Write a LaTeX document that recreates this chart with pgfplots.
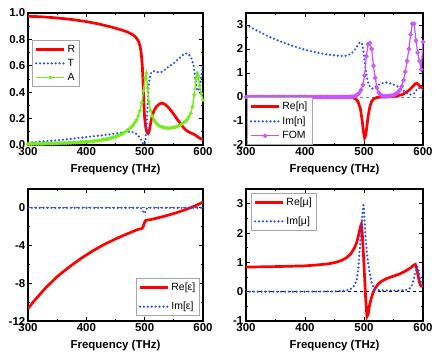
\documentclass[border=0pt]{standalone}
\usepackage{fontspec}
\setmainfont{Liberation Sans}
\usepackage{pgfplots}
\pgfplotsset{compat=1.18}

\definecolor{cR}{RGB}{255,0,0}
\definecolor{cB}{RGB}{35,75,255}
\definecolor{cG}{RGB}{120,235,30}
\definecolor{cP}{RGB}{200,80,255}

\pgfplotsset{
  panel/.style={
    scale only axis, width=175bp, height=132bp,
    xmin=300, xmax=600, xtick={300,400,500,600}, minor x tick num=1,
    tick align=inside, major tick length=4bp, minor tick length=2bp,
    axis line style={line width=1.1bp}, every tick/.style={black, line width=0.8bp},
    ticklabel style={font=\bfseries\fontsize{11.5}{13}\selectfont},
    yticklabel style={inner sep=2.5bp},
    xticklabel style={inner sep=2.5bp},
    /pgf/number format/assume math mode=true,
    xlabel={\bfseries Frequency (THz)},
    xlabel style={font=\fontsize{11.5}{13}\selectfont, at={(axis description cs:0.5,-0.205)}, anchor=base},
    legend style={font=\fontsize{10.5}{12}\selectfont, draw=gray!70, line width=0.6bp,
      inner sep=2.5bp, row sep=1.5bp, cells={anchor=west}},
    legend cell align=left,
    legend image code/.code={\draw[mark repeat=2,mark phase=2,##1] plot coordinates {(0bp,0bp)(14bp,0bp)(28bp,0bp)};},
  },
  Rl/.style={cR, line width=2.7bp},
  Bl/.style={cB, line width=2.4bp, line cap=round, dash pattern=on 0bp off 3.9bp},
}

\begin{document}
\begin{tikzpicture}
\useasboundingbox (0,0) rectangle (436bp,353bp);

% R, T, A
\begin{axis}[panel, at={(28bp,208bp)}, anchor=south west,
  ymin=0, ymax=1, ytick={0,0.2,...,1.0}, minor y tick num=1,
  yticklabel style={/pgf/number format/.cd, fixed, fixed zerofill, precision=1},
  legend style={at={(0.023,0.795)}, anchor=north west}]
\addplot[Rl] coordinates {
(300,0.975)(320,0.972)(340,0.966)(360,0.958)(380,0.948)(400,0.935)(420,0.918)(440,0.897)
(460,0.872)(470,0.857)(480,0.835)(485,0.815)(488,0.795)(490,0.78)(492,0.75)(494,0.7)
(496,0.6)(497,0.5)(498,0.38)(499,0.28)(500,0.2)(502,0.13)(504,0.095)(506,0.088)(508,0.11)
(510,0.16)(513,0.22)(516,0.26)(520,0.29)(525,0.31)(530,0.318)(535,0.308)(540,0.288)
(545,0.262)(550,0.232)(555,0.2)(560,0.17)(565,0.14)(570,0.115)(575,0.1)(580,0.09)
(585,0.08)(590,0.065)(595,0.05)(600,0.04)};
\addlegendentry{R}
\addplot[Bl] coordinates {
(300,0.018)(320,0.025)(340,0.032)(360,0.04)(380,0.05)(400,0.06)(420,0.07)(440,0.08)
(460,0.095)(470,0.1)(478,0.1)(484,0.09)(488,0.075)(492,0.055)(495,0.03)(497,0.012)
(499,0.003)(501,0.02)(503,0.12)(505,0.3)(507,0.45)(509,0.52)(512,0.555)(515,0.56)
(520,0.555)(525,0.55)(530,0.555)(535,0.57)(540,0.59)(550,0.62)(560,0.66)(565,0.68)
(570,0.695)(575,0.69)(580,0.66)(584,0.6)(587,0.5)(589,0.43)(591,0.41)(593,0.42)
(595,0.45)(597,0.52)(599,0.58)(600,0.6)};
\addlegendentry{T}
\addplot[cG, line width=1.4bp, mark=*, mark size=1.1bp] coordinates {
(300,0.008)(303,0.008)(306,0.008)(309,0.009)(312,0.009)(315,0.009)(318,0.01)(321,0.01)
(324,0.01)(327,0.01)(330,0.011)(333,0.011)(336,0.011)(339,0.012)(342,0.012)(345,0.012)
(348,0.013)(351,0.013)(354,0.013)(357,0.014)(360,0.014)(363,0.015)(366,0.015)(369,0.016)
(372,0.016)(375,0.017)(378,0.018)(381,0.018)(384,0.019)(387,0.02)(390,0.021)(393,0.022)
(396,0.023)(399,0.024)(402,0.025)(405,0.026)(408,0.027)(411,0.028)(414,0.03)(417,0.031)
(420,0.033)(423,0.035)(426,0.037)(429,0.04)(432,0.042)(435,0.045)(438,0.048)(441,0.051)
(444,0.055)(447,0.059)(450,0.063)(453,0.068)(456,0.073)(459,0.079)(462,0.086)(465,0.094)
(468,0.103)(471,0.113)(474,0.124)(477,0.136)(480,0.15)(483,0.168)(486,0.19)(489,0.22)
(492,0.26)(495,0.32)(498,0.41)(501,0.51)(503,0.545)(505,0.43)(507,0.33)(510,0.26)
(513,0.22)(516,0.19)(519,0.17)(522,0.155)(525,0.145)(528,0.14)(531,0.135)(534,0.13)
(537,0.13)(540,0.128)(543,0.128)(546,0.13)(549,0.132)(552,0.135)(555,0.14)(558,0.145)
(561,0.15)(564,0.16)(567,0.17)(570,0.18)(573,0.195)(576,0.215)(579,0.24)(582,0.29)
(585,0.38)(588,0.5)(590,0.545)(592,0.52)(594,0.45)(597,0.39)(600,0.34)};
\addlegendentry{A}
\end{axis}

% n and FOM
\begin{axis}[panel, width=177bp, at={(246bp,208bp)}, anchor=south west,
  ymin=-2, ymax=3.5, ytick={-2,-1,0,1,2,3}, minor y tick num=1,
  legend style={at={(0.005,0.0)}, anchor=south west}]
\addplot[gray, line width=0.9bp, dashed, forget plot] coordinates {(300,0)(600,0)};
\addplot[Rl] coordinates {
(300,0)(400,0)(470,0)(480,-0.02)(486,-0.08)(490,-0.2)(494,-0.5)(497,-1.0)(499,-1.45)
(501,-1.7)(503,-1.6)(505,-1.2)(507,-0.8)(510,-0.4)(513,-0.18)(517,-0.07)(522,-0.02)
(530,0)(545,0.01)(555,0.04)(565,0.1)(572,0.2)(578,0.32)(583,0.45)(587,0.55)(590,0.57)
(593,0.5)(596,0.42)(600,0.36)};
\addlegendentry{Re[n]}
\addplot[Bl] coordinates {
(300,3.0)(320,2.75)(340,2.5)(360,2.3)(380,2.12)(400,1.97)(420,1.85)(440,1.76)(460,1.71)
(470,1.72)(478,1.8)(484,1.95)(488,2.1)(492,2.25)(495,2.28)(497,2.2)(499,1.9)(501,1.5)
(503,1.1)(505,0.8)(507,0.6)(510,0.42)(514,0.35)(518,0.4)(524,0.5)(530,0.57)(536,0.6)
(542,0.59)(550,0.52)(558,0.43)(564,0.33)(570,0.2)(575,0.12)(580,0.1)(585,0.15)(590,0.32)
(593,0.38)(596,0.34)(600,0.28)};
\addlegendentry{Im[n]}
\addplot[cP, line width=1.2bp, mark=*, mark size=1.6bp, mark options={fill=cP!55!white, draw=cP}] coordinates {
(300,0)(303,0)(306,0)(309,0)(312,0)(315,0)(318,0)(321,0)(324,0)(327,0)(330,0)(333,0)
(336,0)(339,0)(342,0)(345,0)(348,0)(351,0)(354,0)(357,0)(360,0)(363,0)(366,0)(369,0)
(372,0)(375,0)(378,0)(381,0)(384,0)(387,0)(390,0)(393,0)(396,0)(399,0)(402,0)(405,0)
(408,0)(411,0)(414,0)(417,0)(420,0)(423,0)(426,0)(429,0)(432,0)(435,0)(438,0)(441,0)
(444,0)(447,0)(450,0)(453,0)(456,0)(459,0)(462,0)(465,0)(468,0)(471,0)(474,0)(477,0.01)
(480,0.01)(483,0.02)(486,0.05)(489,0.1)(492,0.18)(495,0.3)(498,0.5)(501,0.9)(504,1.7)
(507,2.2)(510,2.25)(513,2.0)(516,1.3)(519,0.8)(522,0.38)(525,0.18)(528,0.09)(531,0.05)
(534,0.03)(537,0.03)(540,0.03)(543,0.04)(546,0.05)(549,0.07)(552,0.1)(555,0.14)(558,0.2)
(561,0.3)(564,0.45)(567,0.7)(570,1.05)(573,1.5)(576,2.0)(579,2.6)(582,3.05)(585,3.05)
(588,2.35)(591,1.85)(594,1.5)(597,1.15)(600,2.3)};
\addlegendentry{FOM}
\end{axis}

% epsilon
\begin{axis}[panel, at={(28bp,32bp)}, anchor=south west,
  ymin=-12, ymax=2, ytick={-12,-8,-4,0}, minor y tick num=1,
  legend style={at={(0.983,0.038)}, anchor=south east, row sep=6bp}]
\addplot[black!60, line width=0.9bp, dashed, forget plot] coordinates {(300,0)(600,0)};
\addplot[Rl] coordinates {
(300,-10.7)(310,-9.9)(320,-9.2)(330,-8.5)(340,-7.9)(350,-7.3)(360,-6.8)(370,-6.3)
(380,-5.85)(390,-5.4)(400,-5.0)(410,-4.6)(420,-4.25)(430,-3.9)(440,-3.6)(450,-3.3)
(460,-3.02)(470,-2.76)(480,-2.5)(488,-2.3)(494,-2.22)(496,-2.15)(498,-1.9)(500,-1.5)
(502,-1.32)(506,-1.28)(510,-1.25)(520,-1.1)(530,-0.95)(540,-0.78)(550,-0.6)(560,-0.4)
(570,-0.18)(580,0.05)(590,0.3)(600,0.62)};
\addlegendentry{Re[ε]}
\addplot[Bl] coordinates {
(300,0)(400,0)(490,0)(494,-0.05)(496,-0.3)(498,-0.45)(500,-0.6)(502,-0.3)(504,-0.05)
(506,0)(600,0)};
\addlegendentry{Im[ε]}
\end{axis}

% mu
\begin{axis}[panel, width=177bp, at={(246bp,32bp)}, anchor=south west,
  ymin=-1, ymax=3.5, ytick={-1,0,1,2,3}, minor y tick num=1,
  legend style={at={(0.028,0.97)}, anchor=north west, row sep=6bp}]
\addplot[black, line width=0.9bp, dashed, forget plot] coordinates {(300,0)(600,0)};
\addplot[Rl] coordinates {
(300,0.84)(340,0.85)(380,0.87)(400,0.88)(420,0.91)(440,0.95)(450,0.99)(460,1.05)
(470,1.15)(478,1.3)(484,1.5)(488,1.7)(491,1.95)(494,2.22)(495.5,2.3)(497,2.0)(499,1.3)
(501,0.5)(503,-0.3)(505,-0.85)(507,-0.78)(509,-0.5)(512,-0.25)(515,-0.05)(519,0.12)
(524,0.26)(530,0.36)(540,0.46)(550,0.53)(560,0.6)(570,0.7)(578,0.8)(584,0.9)(587,0.93)
(589,0.82)(591,0.62)(593,0.42)(595,0.25)(597,0.19)(600,0.2)};
\addlegendentry{Re[μ]}
\addplot[Bl] coordinates {
(300,0)(400,0)(450,0.01)(465,0.03)(476,0.07)(481,0.15)(485,0.25)(488,0.45)(490,0.74)
(492,1.2)(494,1.76)(496,2.3)(498,2.8)(499,2.95)(500,2.8)(501,2.4)(503,1.76)(505,1.3)
(507,0.97)(510,0.6)(513,0.3)(516,0.15)(519,0.08)(525,0.05)(540,0.04)(560,0.04)(572,0.06)
(577,0.1)(581,0.2)(584,0.4)(587,0.65)(590,0.85)(592,0.8)(594,0.55)(596,0.35)(598,0.22)
(600,0.2)};
\addlegendentry{Im[μ]}
\end{axis}
\end{tikzpicture}
\end{document}
